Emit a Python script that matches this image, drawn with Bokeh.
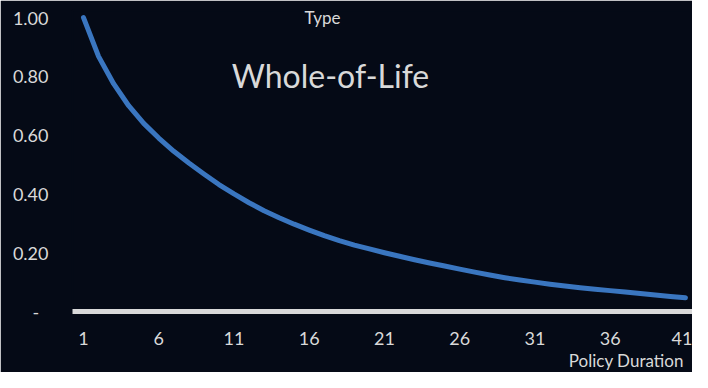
from bokeh.plotting import figure
from bokeh.models import FixedTicker, Label, Range1d, Title
from bokeh.embed import file_html
from bokeh.resources import INLINE

# ---- data ----
durations = list(range(1, 42))
lapse_factor = [1.00, 0.868, 0.775, 0.700, 0.640, 0.590, 0.545, 0.505, 0.468, 0.432,
                0.400, 0.370, 0.343, 0.319, 0.297, 0.277, 0.258, 0.241, 0.226, 0.213,
                0.200, 0.188, 0.176, 0.165, 0.155, 0.144, 0.134, 0.124, 0.115, 0.107,
                0.100, 0.093, 0.087, 0.081, 0.076, 0.071, 0.066, 0.061, 0.056, 0.051,
                0.047]
y_ticks = [0, 0.2, 0.4, 0.6, 0.8, 1]
y_tick_labels = ["-\u00a0\u00a0", "0.20", "0.40", "0.60", "0.80", "1.00"]
x_ticks = [1, 6, 11, 16, 21, 26, 31, 36, 41]
chart_title = "Whole-of-Life"
field_name = "Type"
x_title = "Policy Duration"

BG = "#050a16"
TXT = "#d9d9d9"
LINE = "#3a76c0"
FONT = "Lato"

p = figure(width=692, height=372, output_backend="svg", toolbar_location=None,
           x_range=Range1d(0.269, 41.47), y_range=Range1d(0, 1.024),
           min_border_left=72, min_border_right=0, min_border_top=10,
           min_border_bottom=61, background_fill_color=BG,
           border_fill_color=BG, outline_line_color=BG, outline_line_width=2)
p.grid.visible = False

p.line(durations, lapse_factor, line_color=LINE, line_width=5,
       line_cap="round", line_join="round")

# y axis
p.yaxis.ticker = FixedTicker(ticks=y_ticks)
p.yaxis.major_label_overrides = dict(zip(y_ticks, y_tick_labels))
p.yaxis.axis_line_color = None
p.yaxis.major_tick_line_color = None
p.yaxis.minor_tick_line_color = None
p.yaxis.major_tick_out = 0
p.yaxis.major_label_standoff = 24
p.yaxis.major_label_text_font = FONT
p.yaxis.major_label_text_font_size = "18px"
p.yaxis.major_label_text_color = TXT

# x axis
p.xaxis.ticker = FixedTicker(ticks=x_ticks)
p.xaxis.axis_line_color = TXT
p.xaxis.axis_line_width = 5
p.xaxis.major_tick_line_color = None
p.xaxis.minor_tick_line_color = None
p.xaxis.major_tick_out = 0
p.xaxis.major_label_standoff = 20
p.xaxis.major_label_text_font = FONT
p.xaxis.major_label_text_font_size = "18px"
p.xaxis.major_label_text_color = TXT

p.add_layout(Title(text=x_title + "\u00a0\u00a0", align="right", text_font=FONT,
                   text_font_size="17px", text_font_style="normal",
                   text_color=TXT, standoff=0), "below")

p.add_layout(Label(x=250, y=294, x_units="screen", y_units="screen", text=field_name,
                   text_align="center", text_baseline="middle", text_font=FONT,
                   text_font_size="17px", text_color=TXT))
p.add_layout(Label(x=258, y=236, x_units="screen", y_units="screen", text=chart_title,
                   text_align="center", text_baseline="middle", text_font=FONT,
                   text_font_size="32px", text_color=TXT))

open("out.html", "w").write(file_html(p, INLINE))
